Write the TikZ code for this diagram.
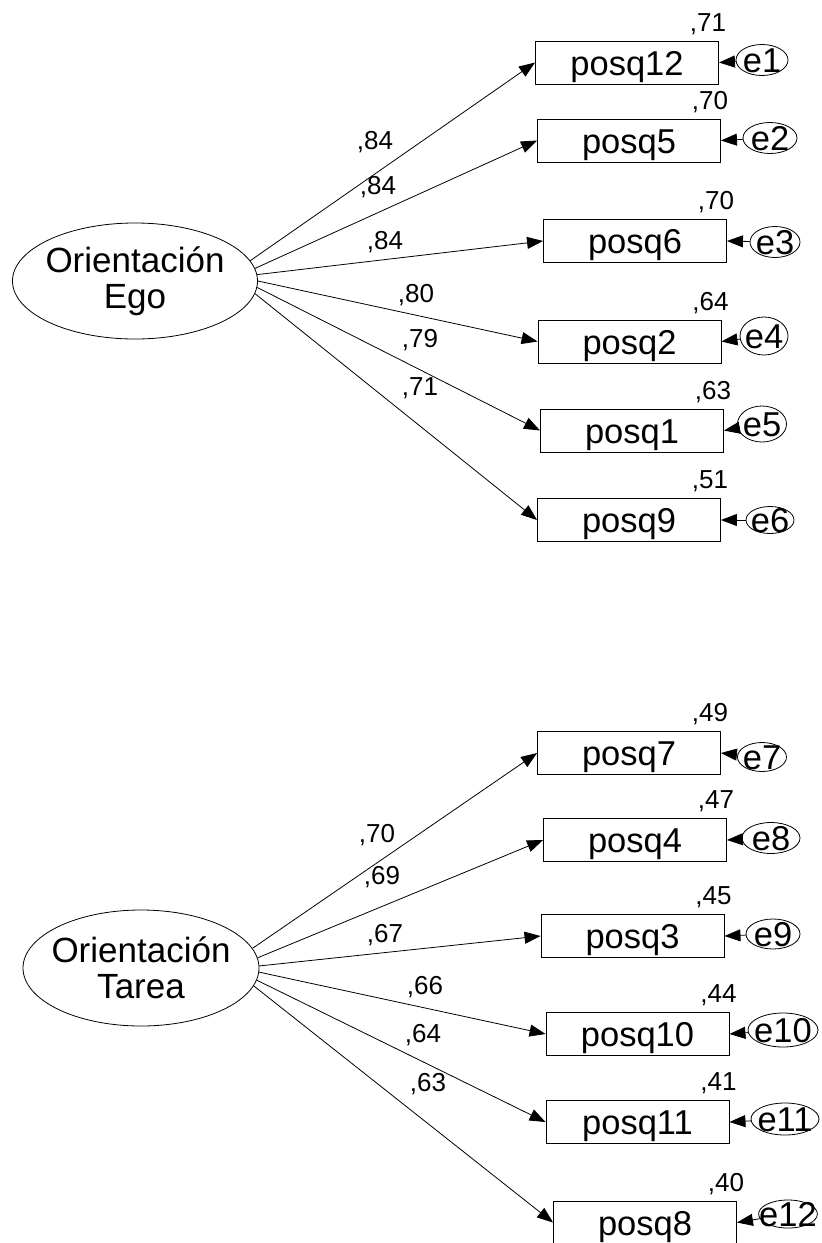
\documentclass[tikz,border=0pt]{standalone}
\usepackage{fontspec}
\setmainfont{Liberation Sans}
\usetikzlibrary{shapes.geometric, arrows.meta}

\tikzset{
    latent/.style={draw, ellipse, line width=0.8pt, inner xsep=-10pt, inner ysep=0pt, minimum height=116pt, align=center, font=\fontsize{35}{36}\selectfont},
    item/.style={draw, rectangle, line width=0.9pt, inner sep=0pt, minimum width=183pt, minimum height=43pt, text height=25pt, text depth=0pt, font=\fontsize{34.5}{36}\selectfont},
    err/.style={draw, ellipse, line width=0.8pt, inner xsep=-8pt, inner ysep=-6pt, minimum width=52pt, minimum height=31pt, text height=25pt, text depth=0pt, font=\fontsize{34.5}{36}\selectfont},
    coef/.style={inner sep=0pt, text height=19pt, text depth=0pt, font=\fontsize{26}{28}\selectfont},
    load/.style={-{Triangle[length=16pt, width=12pt]}, line width=0.8pt}
}

\begin{document}
\begin{tikzpicture}[x=1pt, y=-1pt]
        \useasboundingbox (0, 0) rectangle (822, 1243);

        % Orientacion Ego
        \node[latent, minimum width=245pt] (ego) at (135, 281) {Orientación\\Ego};

        \node[item] (posq12) at (627, 62.5) {posq12};
        \node[item] (posq5) at (629, 140.5) {posq5};
        \node[item] (posq6) at (635, 241) {posq6};
        \node[item] (posq2) at (629.5, 341.5) {posq2};
        \node[item] (posq1) at (632, 430.5) {posq1};
        \node[item] (posq9) at (629, 520) {posq9};

        \node[err] (e1) at (762, 60) {e1};
        \node[err, minimum width=54pt] (e2) at (770, 138) {e2};
        \node[err, minimum width=50pt] (e3) at (775, 242) {e3};
        \node[err, minimum width=48pt, minimum height=38pt] (e4) at (764, 336) {e4};
        \node[err, minimum width=49pt, minimum height=36pt] (e5) at (762, 424) {e5};
        \node[err, minimum width=48pt, minimum height=27pt] (e6) at (770, 520) {e6};

        \draw[load] (ego.10) -- (posq12.west);
        \draw[load] (ego.6) -- (posq5.west);
        \draw[load] (ego.3) -- (posq6.west);
        \draw[load] (ego.0) -- (posq2.west);
        \draw[load] (ego.-3) -- (posq1.west);
        \draw[load] (ego.-6) -- (posq9.west);

        \draw[load] (e1) -- (posq12.east);
        \draw[load] (e2) -- (posq5.east);
        \draw[load] (e3) -- (posq6.east);
        \draw[load] (e4) -- (posq2.east);
        \draw[load] (e5) -- (posq1.east);
        \draw[load] (e6) -- (posq9.east);

        \node[coef] (l1) at (375, 140) {,84};
        \node[coef] (l2) at (378, 185) {,84};
        \node[coef] (l3) at (385, 240) {,84};
        \node[coef] (l4) at (416, 293) {,80};
        \node[coef] (l5) at (420, 338) {,79};
        \node[coef] (l6) at (420, 386) {,71};

        \node[coef] (r1) at ([shift={(-11, -19)}]posq12.north east) {,71};
        \node[coef] (r2) at ([shift={(-11, -19)}]posq5.north east) {,70};
        \node[coef] (r3) at ([shift={(-11, -19)}]posq6.north east) {,70};
        \node[coef] (r4) at ([shift={(-11, -19)}]posq2.north east) {,64};
        \node[coef] (r5) at ([shift={(-11, -19)}]posq1.north east) {,63};
        \node[coef] (r6) at ([shift={(-11, -19)}]posq9.north east) {,51};

        % Orientacion Tarea
        \node[latent, minimum width=236pt] (tarea) at (141, 968) {Orientación\\Tarea};

        \node[item] (posq7) at (629, 753) {posq7};
        \node[item] (posq4) at (635, 840) {posq4};
        \node[item] (posq3) at (632.5, 936) {posq3};
        \node[item] (posq10) at (637.5, 1034) {posq10};
        \node[item] (posq11) at (637.5, 1122) {posq11};
        \node[item] (posq8) at (645, 1222.5) {posq8};

        \node[err, minimum width=49pt, minimum height=29pt] (e7) at (762, 757) {e7};
        \node[err, minimum width=58pt] (e8) at (771, 838) {e8};
        \node[err, minimum width=54pt, minimum height=30pt] (e9) at (773, 934) {e9};
        \node[err, minimum width=70pt, minimum height=34pt] (e10) at (783, 1030) {e10};
        \node[err, minimum width=68pt, minimum height=32pt] (e11) at (785, 1119) {e11};
        \node[err, minimum width=57pt, minimum height=28pt] (e12) at (788, 1214) {e12};

        \draw[load] (tarea.10) -- (posq7.west);
        \draw[load] (tarea.5) -- (posq4.west);
        \draw[load] (tarea.1) -- (posq3.west);
        \draw[load] (tarea.-2) -- (posq10.west);
        \draw[load] (tarea.-6) -- (posq11.west);
        \draw[load] (tarea.-9) -- (posq8.west);

        \draw[load] (e7) -- (posq7.east);
        \draw[load] (e8) -- (posq4.east);
        \draw[load] (e9) -- (posq3.east);
        \draw[load] (e10) -- (posq10.east);
        \draw[load] (e11) -- (posq11.east);
        \draw[load] (e12) -- (posq8.east);

        \node[coef] (l7) at (377, 833) {,70};
        \node[coef] (l8) at (382, 875) {,69};
        \node[coef] (l9) at (385, 933) {,67};
        \node[coef] (l10) at (425, 985) {,66};
        \node[coef] (l11) at (423, 1033) {,64};
        \node[coef] (l12) at (428, 1082) {,63};

        \node[coef] (r7) at ([shift={(-11, -19)}]posq7.north east) {,49};
        \node[coef] (r8) at ([shift={(-11, -19)}]posq4.north east) {,47};
        \node[coef] (r9) at ([shift={(-11, -19)}]posq3.north east) {,45};
        \node[coef] (r10) at ([shift={(-11, -19)}]posq10.north east) {,44};
        \node[coef] (r11) at ([shift={(-11, -19)}]posq11.north east) {,41};
        \node[coef] (r12) at ([shift={(-11, -19)}]posq8.north east) {,40};
    \end{tikzpicture}
\end{document}
